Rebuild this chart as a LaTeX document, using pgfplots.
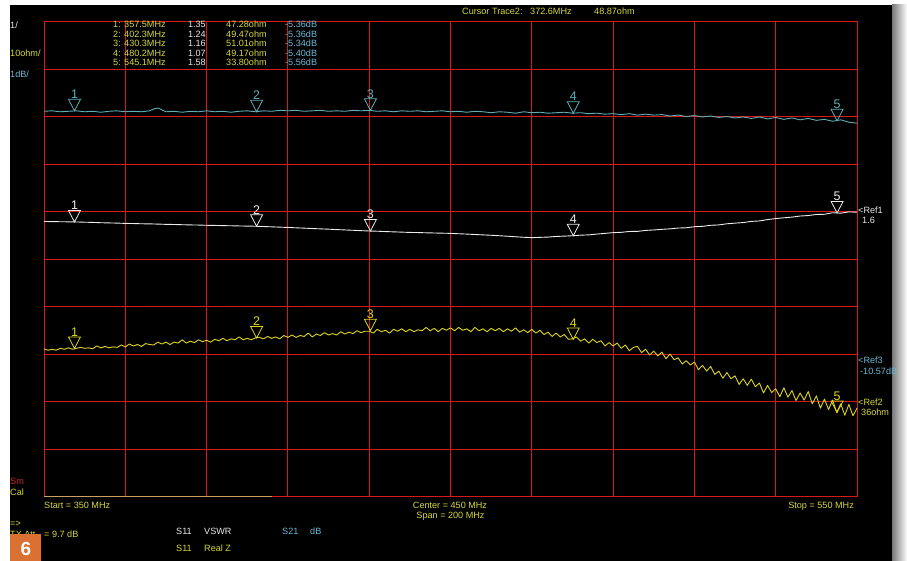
\documentclass[border=0pt]{standalone}
\usepackage{pgfplots}
\usepackage{pgfplotstable}
\pgfplotsset{compat=1.18}
\usepackage{fontspec}
\setmainfont{Liberation Sans}
\definecolor{gridred}{RGB}{215,25,25}
\definecolor{tyel}{RGB}{222,212,30}
\definecolor{tcyan}{RGB}{95,175,185}
\definecolor{twhite}{RGB}{235,235,235}
\definecolor{xyel}{RGB}{215,215,60}
\definecolor{xcyan}{RGB}{110,185,215}
\definecolor{xred}{RGB}{210,40,40}
\definecolor{orangebox}{RGB}{218,112,50}
\definecolor{tanline}{RGB}{200,160,100}
\pgfdeclareplotmark{dtri}{%
  \pgfpathmoveto{\pgfqpoint{0pt}{0pt}}%
  \pgfpathlineto{\pgfqpoint{-6pt}{11.5pt}}%
  \pgfpathlineto{\pgfqpoint{6pt}{11.5pt}}%
  \pgfpathclose
  \pgfusepathqstroke}
% S11 Real Z (ohm)
\pgfplotstableread[row sep=\\]{f r\\
350 47.2\\ 351 46.9\\ 352 47.1\\ 353 46.9\\ 354 47.3\\ 355 47.1\\ 356 47.4\\ 357 47.1\\ 358 47.3\\ 359 47.5\\ 360 47.3\\
361 47.4\\ 362 47.2\\ 363 47.8\\ 364 47.4\\ 365 47.7\\ 366 47.4\\ 367 47.6\\ 368 47.5\\ 369 48.0\\ 370 47.6\\
371 48.2\\ 372 47.8\\ 373 48.1\\ 374 47.7\\ 375 48.3\\ 376 48.1\\ 377 48.0\\ 378 48.6\\ 379 48.2\\ 380 48.6\\
381 48.1\\ 382 48.6\\ 383 48.4\\ 384 49.1\\ 385 48.4\\ 386 48.8\\ 387 48.5\\ 388 49.1\\ 389 48.7\\ 390 49.0\\
391 48.6\\ 392 49.2\\ 393 48.9\\ 394 49.4\\ 395 48.9\\ 396 49.3\\ 397 49.1\\ 398 49.7\\ 399 49.1\\ 400 49.4\\
401 49.1\\ 402 49.5\\ 403 49.6\\ 404 49.3\\ 405 49.8\\ 406 49.4\\ 407 49.7\\ 408 49.3\\ 409 50.0\\ 410 49.6\\
411 50.1\\ 412 49.6\\ 413 50.0\\ 414 49.8\\ 415 50.5\\ 416 49.7\\ 417 50.3\\ 418 50.0\\ 419 50.6\\ 420 50.1\\
421 50.4\\ 422 50.1\\ 423 50.8\\ 424 50.3\\ 425 50.7\\ 426 50.4\\ 427 51.0\\ 428 50.6\\ 429 50.9\\ 430 50.9\\
431 50.5\\ 432 51.3\\ 433 50.8\\ 434 51.1\\ 435 50.5\\ 436 51.3\\ 437 50.9\\ 438 51.4\\ 439 50.8\\ 440 51.3\\
441 50.8\\ 442 51.2\\ 443 51.0\\ 444 51.7\\ 445 51.0\\ 446 51.5\\ 447 50.8\\ 448 51.5\\ 449 51.1\\ 450 51.6\\
451 51.0\\ 452 51.7\\ 453 51.1\\ 454 51.4\\ 455 50.8\\ 456 51.7\\ 457 51.0\\ 458 51.4\\ 459 50.8\\ 460 51.5\\
461 51.0\\ 462 51.5\\ 463 50.8\\ 464 51.4\\ 465 50.9\\ 466 51.6\\ 467 50.7\\ 468 51.2\\ 469 50.6\\ 470 51.3\\
471 50.5\\ 472 51.1\\ 473 50.2\\ 474 50.7\\ 475 49.8\\ 476 50.5\\ 477 49.7\\ 478 50.2\\ 479 49.2\\ 480 49.3\\
481 49.7\\ 482 48.8\\ 483 49.3\\ 484 48.4\\ 485 49.2\\ 486 48.5\\ 487 48.9\\ 488 47.8\\ 489 48.5\\ 490 47.8\\
491 48.4\\ 492 47.3\\ 493 48.0\\ 494 46.8\\ 495 47.5\\ 496 47.7\\ 497 46.4\\ 498 47.1\\ 499 45.9\\ 500 46.7\\
501 45.7\\ 502 46.5\\ 503 45.1\\ 504 46.1\\ 505 44.9\\ 506 45.3\\ 507 44.0\\ 508 44.7\\ 509 43.8\\ 510 44.4\\
511 42.8\\ 512 43.7\\ 513 42.5\\ 514 43.5\\ 515 41.8\\ 516 42.5\\ 517 41.0\\ 518 42.2\\ 519 40.9\\ 520 41.5\\
521 39.7\\ 522 40.9\\ 523 39.5\\ 524 40.8\\ 525 39.2\\ 526 40.0\\ 527 37.9\\ 528 39.5\\ 529 38.0\\ 530 38.8\\
531 37.1\\ 532 39.0\\ 533 37.0\\ 534 38.4\\ 535 36.3\\ 536 37.9\\ 537 36.4\\ 538 38.2\\ 539 35.6\\ 540 37.3\\
541 34.7\\ 542 36.6\\ 543 34.4\\ 544 36.4\\ 545 33.8\\ 546 35.6\\ 547 33.2\\ 548 35.5\\ 549 33.1\\ 550 34.7\\
}\realz
% S11 VSWR
\pgfplotstableread[row sep=\\]{f v\\
350 1.400\\ 352 1.398\\ 354 1.395\\ 356 1.393\\ 358 1.390\\ 360 1.385\\ 362 1.381\\ 364 1.374\\ 366 1.370\\ 368 1.366\\
370 1.360\\ 372 1.357\\ 374 1.352\\ 376 1.350\\ 378 1.345\\ 380 1.340\\ 382 1.337\\ 384 1.332\\ 386 1.328\\ 388 1.325\\
390 1.320\\ 392 1.317\\ 394 1.313\\ 396 1.310\\ 398 1.306\\ 400 1.303\\ 402 1.300\\ 404 1.294\\ 406 1.288\\ 408 1.281\\
410 1.275\\ 412 1.267\\ 414 1.260\\ 416 1.252\\ 418 1.245\\ 420 1.238\\ 422 1.230\\ 424 1.222\\ 426 1.215\\ 428 1.207\\
430 1.200\\ 432 1.195\\ 434 1.188\\ 436 1.182\\ 438 1.176\\ 440 1.170\\ 442 1.167\\ 444 1.162\\ 446 1.158\\ 448 1.154\\
450 1.150\\ 452 1.142\\ 454 1.135\\ 456 1.126\\ 458 1.118\\ 460 1.110\\ 462 1.100\\ 464 1.090\\ 466 1.078\\ 468 1.068\\
470 1.060\\ 472 1.066\\ 474 1.072\\ 476 1.085\\ 478 1.092\\ 480 1.100\\ 482 1.112\\ 484 1.118\\ 486 1.135\\ 488 1.150\\
490 1.165\\ 492 1.172\\ 494 1.190\\ 496 1.192\\ 498 1.212\\ 500 1.222\\ 502 1.235\\ 504 1.245\\ 506 1.262\\ 508 1.268\\
510 1.290\\ 512 1.298\\ 514 1.320\\ 516 1.328\\ 518 1.352\\ 520 1.365\\ 522 1.378\\ 524 1.402\\ 526 1.412\\ 528 1.440\\
530 1.462\\ 532 1.478\\ 534 1.492\\ 536 1.515\\ 538 1.525\\ 540 1.548\\ 542 1.552\\ 544 1.585\\ 546 1.575\\ 548 1.602\\
550 1.595\\
}\vswr
% S21 dB
\pgfplotstableread[row sep=\\]{f d\\
350 -5.45\\ 352 -5.44\\ 354 -5.46\\ 356 -5.45\\ 358 -5.44\\ 360 -5.46\\ 362 -5.45\\ 364 -5.47\\ 366 -5.45\\ 368 -5.44\\
370 -5.46\\ 372 -5.45\\ 374 -5.46\\ 376 -5.44\\ 377 -5.40\\ 378 -5.38\\ 379 -5.42\\ 380 -5.46\\ 382 -5.45\\ 384 -5.47\\
386 -5.45\\ 388 -5.46\\ 390 -5.44\\ 392 -5.46\\ 394 -5.45\\ 396 -5.47\\ 398 -5.45\\ 400 -5.44\\ 402 -5.46\\ 404 -5.44\\
406 -5.45\\ 408 -5.43\\ 410 -5.44\\ 412 -5.43\\ 414 -5.45\\ 416 -5.44\\ 418 -5.43\\ 420 -5.45\\ 422 -5.44\\ 424 -5.45\\
426 -5.43\\ 428 -5.44\\ 430 -5.43\\ 432 -5.45\\ 434 -5.44\\ 436 -5.46\\ 438 -5.44\\ 440 -5.45\\ 442 -5.44\\ 444 -5.46\\
446 -5.45\\ 448 -5.44\\ 450 -5.46\\ 452 -5.45\\ 454 -5.47\\ 456 -5.45\\ 458 -5.46\\ 460 -5.48\\ 462 -5.46\\ 464 -5.47\\
466 -5.49\\ 468 -5.46\\ 470 -5.48\\ 472 -5.47\\ 474 -5.49\\ 476 -5.48\\ 478 -5.47\\ 480 -5.49\\ 482 -5.48\\ 484 -5.50\\
486 -5.49\\ 488 -5.51\\ 490 -5.50\\ 492 -5.52\\ 494 -5.50\\ 496 -5.53\\ 498 -5.51\\ 500 -5.53\\ 502 -5.52\\ 504 -5.55\\
506 -5.53\\ 508 -5.56\\ 510 -5.54\\ 512 -5.57\\ 514 -5.55\\ 516 -5.58\\ 518 -5.56\\ 520 -5.59\\ 522 -5.57\\ 524 -5.60\\
526 -5.57\\ 528 -5.61\\ 530 -5.58\\ 532 -5.62\\ 534 -5.59\\ 536 -5.63\\ 538 -5.60\\ 540 -5.64\\ 542 -5.62\\ 544 -5.66\\
546 -5.63\\ 548 -5.68\\ 550 -5.70\\
}\sdb
% markers
\pgfplotstableread[row sep=\\]{f r n\\ 357.5 47.28 1\\ 402.3 49.47 2\\ 430.3 51.01 3\\ 480.2 49.17 4\\ 545.1 33.80 5\\}\mkr
\pgfplotstableread[row sep=\\]{f v n\\ 357.5 1.390 1\\ 402.3 1.300 2\\ 430.3 1.200 3\\ 480.2 1.100 4\\ 545.1 1.580 5\\}\mkv
\pgfplotstableread[row sep=\\]{f d n\\ 357.5 -5.44 1\\ 402.3 -5.46 2\\ 430.3 -5.43 3\\ 480.2 -5.49 4\\ 545.1 -5.65 5\\}\mkd
\newcommand\sm{\fontsize{9.1}{10}\selectfont}
\begin{document}
\begin{tikzpicture}
\fill[white] (0,0) rectangle (907pt,561pt);
\fill[black] (10pt,0) rectangle (892pt,556pt);
\shade[left color={rgb,255:red,120;green,120;blue,120}, right color=white] (892pt,0) rectangle (907pt,556pt);
\begin{axis}[
  at={(44pt,64pt)}, anchor=south west,
  width=813pt, height=475pt, scale only axis,
  xmin=350, xmax=550, ymin=0, ymax=10,
  xtick={350,370,...,550}, ytick={0,1,...,10},
  xticklabels={}, yticklabels={},
  major tick length=0pt,
  grid=major,
  grid style={gridred, line width=1pt},
  major grid style={gridred, line width=1pt},
  axis line style={gridred, line width=1pt},
  clip=false,
  mknum/.style={nodes near coords, point meta=explicit symbolic,
    every node near coord/.style={anchor=south, yshift=11.5pt, inner sep=0.3pt, text=#1,
      font=\fontsize{12.5}{12.5}\selectfont}},
]
\addplot[tcyan, line width=0.9pt, no markers, line join=round] table[x=f, y expr=\thisrow{d}+13.57] {\sdb};
\addplot[twhite, line width=0.9pt, no markers, line join=round] table[x=f, y expr=\thisrow{v}+4.4] {\vswr};
\addplot[tyel, line width=0.9pt, no markers, line join=round] table[x=f, y expr=(\thisrow{r}-16)/10] {\realz};
\addplot[tcyan, only marks, mark=dtri, mark options={line width=0.8pt}, mknum=tcyan] table[x=f, y expr=\thisrow{d}+13.57, meta=n] {\mkd};
\addplot[twhite, only marks, mark=dtri, mark options={line width=0.8pt}, mknum=twhite] table[x=f, y expr=\thisrow{v}+4.4, meta=n] {\mkv};
\addplot[tyel, only marks, mark=dtri, mark options={line width=0.8pt}, mknum=tyel] table[x=f, y expr=(\thisrow{r}-16)/10, meta=n] {\mkr};
\end{axis}
\draw[tanline, line width=1pt] (44pt,64pt) -- (272pt,64pt);
\begin{scope}[x=1pt, y=-1pt, yshift=561pt, every node/.style={inner sep=0pt, font=\sm}]
\node[anchor=base west, text=twhite] at (10,28.3) {1/};
\node[anchor=base west, text=xyel] at (10,56.5) {10ohm/};
\node[anchor=base west, text=xcyan] at (10,78) {1dB/};
% marker table
\node[anchor=base east, text=xyel] at (121,27.6) {1:};
\node[anchor=base west, text=xyel] at (124,27.6) {357.5MHz};
\node[anchor=base east, text=twhite] at (206,27.6) {1.35};
\node[anchor=base west, text=xyel] at (226,27.6) {47.28ohm};
\node[anchor=base west, text=xcyan] at (285,27.6) {-5.36dB};
\node[anchor=base east, text=xyel] at (121,37.1) {2:};
\node[anchor=base west, text=xyel] at (124,37.1) {402.3MHz};
\node[anchor=base east, text=twhite] at (206,37.1) {1.24};
\node[anchor=base west, text=xyel] at (226,37.1) {49.47ohm};
\node[anchor=base west, text=xcyan] at (285,37.1) {-5.36dB};
\node[anchor=base east, text=xyel] at (121,46.6) {3:};
\node[anchor=base west, text=xyel] at (124,46.6) {430.3MHz};
\node[anchor=base east, text=twhite] at (206,46.6) {1.16};
\node[anchor=base west, text=xyel] at (226,46.6) {51.01ohm};
\node[anchor=base west, text=xcyan] at (285,46.6) {-5.34dB};
\node[anchor=base east, text=xyel] at (121,56.1) {4:};
\node[anchor=base west, text=xyel] at (124,56.1) {480.2MHz};
\node[anchor=base east, text=twhite] at (206,56.1) {1.07};
\node[anchor=base west, text=xyel] at (226,56.1) {49.17ohm};
\node[anchor=base west, text=xcyan] at (285,56.1) {-5.40dB};
\node[anchor=base east, text=xyel] at (121,65.6) {5:};
\node[anchor=base west, text=xyel] at (124,65.6) {545.1MHz};
\node[anchor=base east, text=twhite] at (206,65.6) {1.58};
\node[anchor=base west, text=xyel] at (226,65.6) {33.80ohm};
\node[anchor=base west, text=xcyan] at (285,65.6) {-5.56dB};
% cursor
\node[anchor=base west, text=xyel] at (462,14.3) {Cursor Trace2:};
\node[anchor=base west, text=xyel] at (530,14.3) {372.6MHz};
\node[anchor=base west, text=xyel] at (594,14.3) {48.87ohm};
% references
\node[anchor=base west, text=twhite] at (858,213.3) {<Ref1};
\node[anchor=base west, text=twhite] at (862,224) {1.6};
\node[anchor=base west, text=xcyan] at (858,364) {<Ref3};
\node[anchor=base west, text=xcyan] at (860,374.3) {-10.57dB};
\node[anchor=base west, text=xyel] at (858,405.3) {<Ref2};
\node[anchor=base west, text=xyel] at (861,416) {36ohm};
% bottom
\node[anchor=base west, text=xred] at (10,485) {Sm};
\node[anchor=base west, text=xyel] at (10,495.6) {Cal};
\node[anchor=base west, text=xyel] at (44,508.3) {Start = 350 MHz};
\node[anchor=base, text=xyel] at (450,508.3) {Center = 450 MHz};
\node[anchor=base, text=xyel] at (450.5,518.3) {Span = 200 MHz};
\node[anchor=base east, text=xyel] at (854,508.3) {Stop = 550 MHz};
\node[anchor=base west, text=xyel] at (10,526.3) {=>};
\node[anchor=base west, text=xyel] at (10,537.3) {TX Att};
\node[anchor=base west, text=xyel] at (44,537.3) {= 9.7 dB};
\node[anchor=base west, text=twhite] at (176,534.3) {S11};
\node[anchor=base west, text=twhite] at (204,534.3) {VSWR};
\node[anchor=base west, text=xcyan] at (282,534.3) {S21};
\node[anchor=base west, text=xcyan] at (310,534.3) {dB};
\node[anchor=base west, text=xyel] at (176,551.3) {S11};
\node[anchor=base west, text=xyel] at (204,551.3) {Real Z};
\fill[orangebox] (10,534.5) rectangle (41,561);
\node[text=white, font=\fontsize{19}{19}\selectfont\bfseries] at (25.8,549) {6};
\end{scope}
\end{tikzpicture}
\end{document}
